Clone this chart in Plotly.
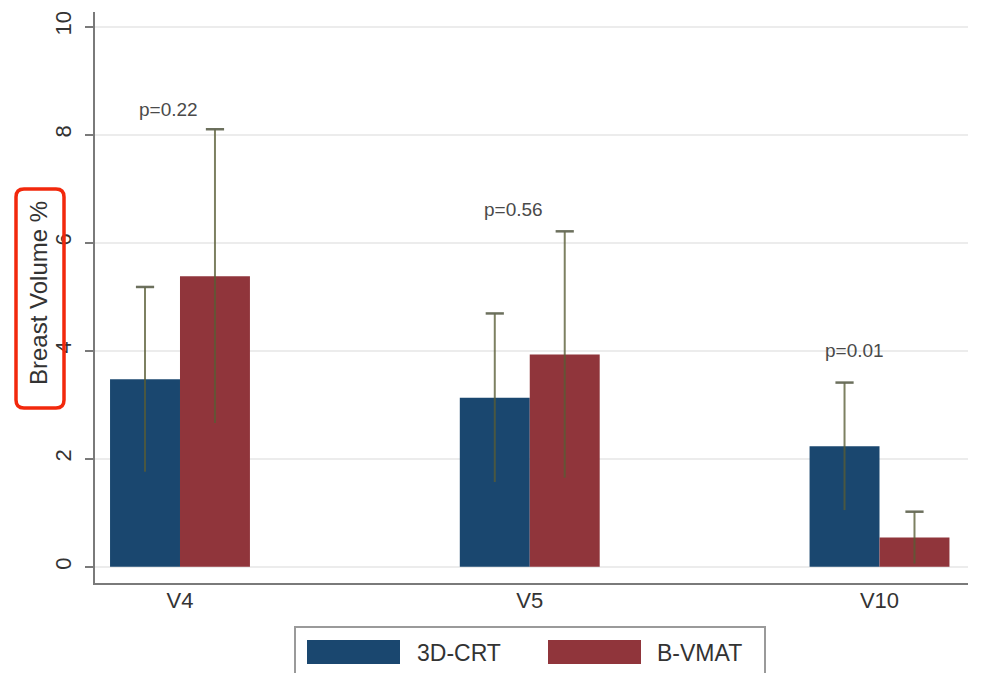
import plotly.graph_objects as go

# ---- data -------------------------------------------------------------
categories = ["V4", "V5", "V10"]
series_names = ["3D-CRT", "B-VMAT"]
crt_mean = [3.47, 3.13, 2.23]
crt_sd = [1.71, 1.56, 1.18]
vmat_mean = [5.38, 3.93, 0.54]
vmat_sd = [2.72, 2.28, 0.48]
p_labels = ["p=0.22", "p=0.56", "p=0.01"]
p_label_y = [8.46, 6.61, 4.01]
y_ticks = [0, 2, 4, 6, 8, 10]
y_title = "Breast Volume %"

# ---- styling ----------------------------------------------------------
W, H = 985, 673
ML, MR, MT, MB = 95, 17, 12, 90
BLUE = "#1a476f"
RED = "#90353b"
ERR = "rgba(88,92,52,0.78)"
CAP = "rgba(100,104,84,0.95)"
AXIS = "#7a7a7a"
GRID = "#ececec"
FONT = "Liberation Sans, Arial, sans-serif"
GROUP_W = 0.4          # total width of a group of bars, in category units
pos = list(range(len(categories)))

fig = go.Figure()
series = [
    (series_names[0], crt_mean, crt_sd, BLUE, -GROUP_W / 4),
    (series_names[1], vmat_mean, vmat_sd, RED, GROUP_W / 4),
]
for name, mean, sd, col, _ in series:
    fig.add_trace(go.Bar(
        x=pos, y=mean, name=name,
        marker=dict(color=col, line=dict(width=0)),
        error_y=dict(type="data", array=sd, visible=True,
                     color=ERR, thickness=2, width=0),
        showlegend=False, hoverinfo="skip",
    ))

# caps on the upper end of each error bar only
for name, mean, sd, col, off in series:
    fig.add_trace(go.Scatter(
        x=[p + off for p in pos], y=[m + s for m, s in zip(mean, sd)],
        mode="markers",
        marker=dict(symbol="line-ew-open", size=13, color=CAP,
                    line=dict(width=2.5)),
        showlegend=False, hoverinfo="skip",
    ))

# p-value labels above each group
p_shift = [-11, -16, -25]
for p, txt, yv, dx in zip(pos, p_labels, p_label_y, p_shift):
    fig.add_annotation(x=p, y=yv, text=txt, showarrow=False,
                       xshift=dx, font=dict(size=19, color="#4a4a4a", family=FONT))

# pixel -> paper helpers for layout decorations
pw, ph = W - ML - MR, H - MT - MB
def px(x):
    return (x - ML) / pw
def py(y):
    return (H - MB - y) / ph

# vertical y-axis title
fig.add_annotation(xref="paper", yref="paper", x=px(38), y=py(293),
                   xanchor="center", yanchor="middle", showarrow=False,
                   textangle=-90, text=y_title,
                   font=dict(size=24, color="#333333", family=FONT))

# custom legend box with wide swatches
shapes = [
    dict(type="rect", xref="paper", yref="paper",
         x0=px(295), x1=px(765), y0=py(627), y1=py(690),
         line=dict(color="#9a9a9a", width=2), fillcolor="white", layer="above"),
    dict(type="rect", xref="paper", yref="paper",
         x0=px(307), x1=px(400), y0=py(640), y1=py(664),
         line=dict(width=0), fillcolor=BLUE),
    dict(type="rect", xref="paper", yref="paper",
         x0=px(548), x1=px(641), y0=py(640), y1=py(664),
         line=dict(width=0), fillcolor=RED),
]
for name, x0 in zip(series_names, [415, 655]):
    fig.add_annotation(xref="paper", yref="paper", x=px(x0), y=py(653),
                       xanchor="left", yanchor="middle", showarrow=False,
                       text=name, font=dict(size=23, color="#333333", family=FONT))

# rounded red highlight around the y-axis title
def rounded_rect(x0, y0, x1, y1, r):
    rx, ry = r / pw, r / ph
    X0, X1, Y0, Y1 = px(x0), px(x1), py(y1), py(y0)
    return (f"M {X0+rx},{Y0} L {X1-rx},{Y0} Q {X1},{Y0} {X1},{Y0+ry} "
            f"L {X1},{Y1-ry} Q {X1},{Y1} {X1-rx},{Y1} "
            f"L {X0+rx},{Y1} Q {X0},{Y1} {X0},{Y1-ry} "
            f"L {X0},{Y0+ry} Q {X0},{Y0} {X0+rx},{Y0} Z")

shapes.append(dict(type="path", xref="paper", yref="paper",
                   path=rounded_rect(16, 189, 64, 408, 8),
                   line=dict(color="#f2280c", width=3.5), layer="above"))

fig.update_layout(
    width=W, height=H,
    margin=dict(l=ML, r=MR, t=MT, b=MB),
    paper_bgcolor="white", plot_bgcolor="white",
    barmode="group", bargap=1 - GROUP_W, bargroupgap=0,
    font=dict(family=FONT, color="#333333"),
    shapes=shapes,
    xaxis=dict(
        range=[-0.243, 2.253], showgrid=False,
        tickvals=pos, ticktext=categories,
        showline=True, linecolor=AXIS, linewidth=2,
        ticks="", tickfont=dict(size=22, color="#333333"),
        ticklabelstandoff=-3,
        zeroline=False,
    ),
    yaxis=dict(
        range=[-0.3, 10.27], tickvals=y_ticks,
        showgrid=True, gridcolor=GRID, gridwidth=1.5,
        showline=True, linecolor=AXIS, linewidth=2,
        ticks="outside", ticklen=8, tickcolor=AXIS, tickwidth=1.5,
        tickangle=-90, tickfont=dict(size=22, color="#333333"),
        ticklabelstandoff=5,
        zeroline=False,
    ),
)

fig.write_html("out.html")
